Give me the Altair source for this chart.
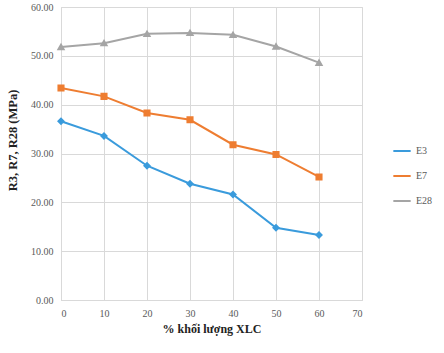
import altair as alt
import pandas as pd

x_vals = [0, 10, 20, 30, 40, 50, 60]
e3 = [36.6, 33.6, 27.5, 23.8, 21.6, 14.8, 13.3]
e7 = [43.4, 41.7, 38.3, 36.9, 31.8, 29.8, 25.2]
e28 = [51.8, 52.6, 54.5, 54.7, 54.3, 51.9, 48.6]
series_names = ["E3", "E7", "E28"]
colors = ["#3A9BDC", "#EE7D31", "#A5A5A5"]
shapes = ["diamond", "square", "triangle-up"]

rows = []
for name, vals, c, s in zip(series_names, [e3, e7, e28], colors, shapes):
    for xv, yv in zip(x_vals, vals):
        rows.append({"x": xv, "y": yv, "series": name, "col": c, "shp": s})
df = pd.DataFrame(rows)

serif = "Liberation Serif"

x_enc = alt.X("x:Q", scale=alt.Scale(domain=[0, 70], nice=False),
              axis=alt.Axis(values=[0, 10, 20, 30, 40, 50, 60, 70], title="% khối lượng XLC",
                            grid=True, ticks=False, labelPadding=8, titlePadding=5,
                            labelFont=serif, labelFontSize=10, labelColor="#595959",
                            titleFont=serif, titleFontSize=12, titleFontWeight="bold",
                            titleColor="#222222", domainColor="#D9D9D9", gridColor="#D9D9D9"))
y_enc = alt.Y("y:Q", scale=alt.Scale(domain=[0, 60], nice=False),
              axis=alt.Axis(values=[0, 10, 20, 30, 40, 50, 60], format=".2f",
                            title="R3, R7, R28 (MPa)", grid=True, ticks=False,
                            labelPadding=8, labelFont=serif, labelFontSize=10,
                            labelColor="#595959", titleFont=serif, titleFontSize=12.5,
                            titleFontWeight="bold", titleColor="#222222",
                            titleX=-49, titleY=133, titleAngle=270,
                            titleAlign="center", titleBaseline="middle",
                            domainColor="#D9D9D9", gridColor="#D9D9D9"))
color_enc = alt.Color("series:N", scale=alt.Scale(domain=series_names, range=colors),
                      legend=alt.Legend(title=None, orient="none", legendX=331, legendY=134,
                                        symbolType="stroke", symbolSize=300, symbolStrokeWidth=2,
                                        rowPadding=10, labelFont=serif, labelFontSize=10,
                                        labelColor="#595959", labelOffset=4))

lines = alt.Chart(df).mark_line(strokeWidth=2).encode(x=x_enc, y=y_enc, color=color_enc)
points = alt.Chart(df).mark_point(filled=True, size=26, opacity=1).encode(
    x="x:Q", y="y:Q",
    fill=alt.Fill("col:N", scale=None),
    stroke=alt.Stroke("col:N", scale=None),
    shape=alt.Shape("shp:N", scale=None))

chart = alt.layer(lines, points).properties(
    width=301, height=293,
    autosize=alt.AutoSizeParams(type="none"),
    padding={"left": 61, "top": 7, "right": 82, "bottom": 53},
).configure_view(stroke=None).configure(background="white")

chart.save("out.html", embed_options={"renderer": "svg", "actions": False})
